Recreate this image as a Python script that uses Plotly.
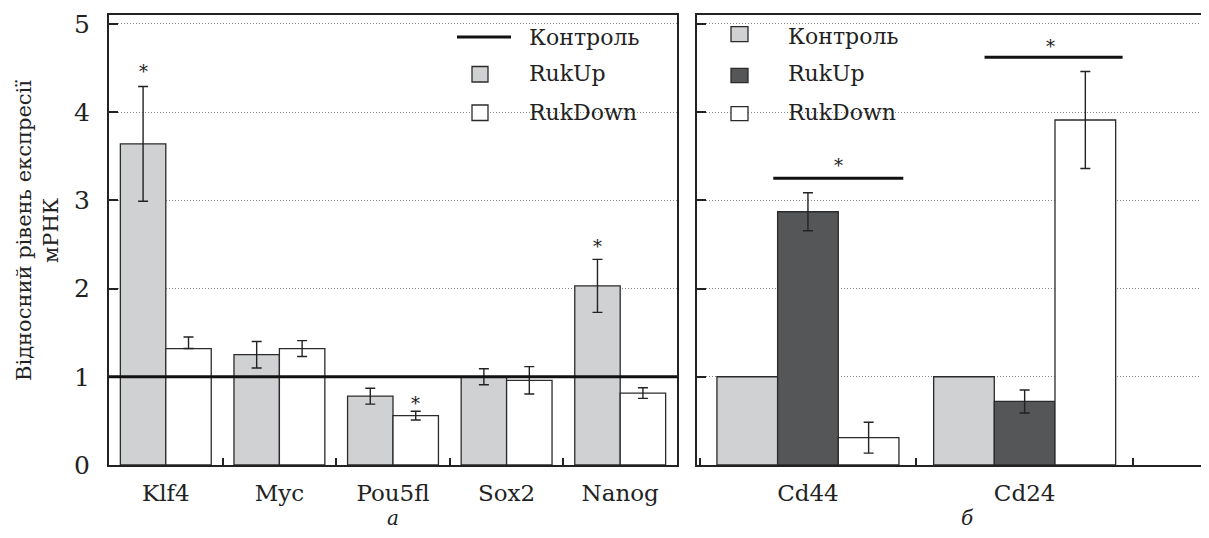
import plotly.graph_objects as go

# page body has an 8px margin: the figure is drawn inside it
OFF = 8
W, H = 1209 - 2 * OFF, 538 - 2 * OFF

# ---------------- data ----------------
genes_a = ["Klf4", "Myc", "Pou5fl", "Sox2", "Nanog"]
rukup_a = [3.64, 1.25, 0.78, 1.00, 2.03]
rukup_a_err = [0.65, 0.15, 0.09, 0.09, 0.30]
rukdown_a = [1.32, 1.32, 0.56, 0.96, 0.815]
rukdown_a_err_plus = [0.13, 0.09, 0.05, 0.155, 0.06]
rukdown_a_err_minus = [0.0, 0.09, 0.05, 0.155, 0.06]
control_level = 1.0

genes_b = ["Cd44", "Cd24"]
control_b = [1.0, 1.0]
rukup_b = [2.87, 0.72]
rukup_b_err = [0.215, 0.13]
rukdown_b = [0.31, 3.91]
rukdown_b_err = [0.175, 0.55]

# significance marks
stars_a = [("Klf4", -0.2, 4.46), ("Pou5fl", 0.2, 0.70), ("Nanog", -0.2, 2.48)]
sig_b = [(-0.16, 0.44, 3.25, 0.14, 3.39), (0.815, 1.452, 4.62, 1.12, 4.74)]

y_ticks = [0, 1, 2, 3, 4, 5]

FONT = "DejaVu Serif"
GRAY = "#d0d1d3"
DARK = "#555658"
EDGE = "#2b2b2b"
TXT = "#222"

def px(x):
    return (x - OFF) / W

def py(y):
    return 1 - (y - OFF) / H

fig = go.Figure()

# ---- panel a ----
fig.add_trace(go.Bar(
    x=genes_a, y=rukup_a, width=0.4, offset=-0.4,
    marker=dict(color=GRAY, line=dict(color=EDGE, width=1.3)),
    error_y=dict(type="data", array=rukup_a_err, color=TXT, thickness=1.4, width=5),
    xaxis="x", yaxis="y", showlegend=False, name="RukUp"))
fig.add_trace(go.Bar(
    x=genes_a, y=rukdown_a, width=0.4, offset=0.0,
    marker=dict(color="white", line=dict(color=EDGE, width=1.3)),
    error_y=dict(type="data", array=rukdown_a_err_plus, arrayminus=rukdown_a_err_minus,
                 symmetric=False, color=TXT, thickness=1.4, width=5),
    xaxis="x", yaxis="y", showlegend=False, name="RukDown"))

# ---- panel b ----
fig.add_trace(go.Bar(
    x=genes_b, y=control_b, width=0.28, offset=-0.42,
    marker=dict(color=GRAY, line=dict(color=EDGE, width=1.3)),
    xaxis="x2", yaxis="y2", showlegend=False, name="Контроль"))
fig.add_trace(go.Bar(
    x=genes_b, y=rukup_b, width=0.28, offset=-0.14,
    marker=dict(color=DARK, line=dict(color=EDGE, width=1.3)),
    error_y=dict(type="data", array=rukup_b_err, color=TXT, thickness=1.4, width=5),
    xaxis="x2", yaxis="y2", showlegend=False, name="RukUp"))
fig.add_trace(go.Bar(
    x=genes_b, y=rukdown_b, width=0.28, offset=0.14,
    marker=dict(color="white", line=dict(color=EDGE, width=1.3)),
    error_y=dict(type="data", array=rukdown_b_err, color=TXT, thickness=1.4, width=5),
    xaxis="x2", yaxis="y2", showlegend=False, name="RukDown"))

shapes = []
annotations = []

# control line in panel a
shapes.append(dict(type="line", xref="x domain", yref="y", x0=0, x1=1,
                   y0=control_level, y1=control_level,
                   line=dict(color="#111", width=3), layer="above"))

# stars panel a
for g, dx, yv in stars_a:
    annotations.append(dict(x=genes_a.index(g) + dx, y=yv, xref="x", yref="y",
                            text="*", showarrow=False, yanchor="middle",
                            font=dict(family=FONT, size=18, color=TXT)))

# significance lines panel b
for x0, x1, yl, xs, ys in sig_b:
    shapes.append(dict(type="line", xref="x2", yref="y2", x0=x0, x1=x1, y0=yl, y1=yl,
                       line=dict(color="#111", width=3)))
    annotations.append(dict(x=xs, y=ys, xref="x2", yref="y2", text="*", showarrow=False,
                            yanchor="middle",
                            font=dict(family=FONT, size=18, color=TXT)))

# ---- manual legends ----
LFS = 22
# left legend
shapes.append(dict(type="line", xref="paper", yref="paper", x0=px(457), x1=px(511),
                   y0=py(37), y1=py(37), line=dict(color="#111", width=3)))
shapes.append(dict(type="rect", xref="paper", yref="paper", x0=px(472), x1=px(488),
                   y0=py(82), y1=py(66.5), fillcolor=GRAY, line=dict(color=EDGE, width=1.3)))
shapes.append(dict(type="rect", xref="paper", yref="paper", x0=px(472), x1=px(488),
                   y0=py(120.5), y1=py(105), fillcolor="white", line=dict(color=EDGE, width=1.3)))
for t, yy in [("Контроль", 37), ("RukUp", 74), ("RukDown", 112)]:
    annotations.append(dict(x=px(527), y=py(yy), xref="paper", yref="paper", text=t,
                            showarrow=False, xanchor="left", yanchor="middle",
                            font=dict(family=FONT, size=LFS, color=TXT)))
# right legend
for col, y0, y1 in [(GRAY, 26.7, 41.7), (DARK, 68.3, 82.7), ("white", 106.7, 120.7)]:
    shapes.append(dict(type="rect", xref="paper", yref="paper", x0=px(731), x1=px(748),
                       y0=py(y1), y1=py(y0), fillcolor=col, line=dict(color=EDGE, width=1.3)))
for t, yy in [("Контроль", 36), ("RukUp", 74), ("RukDown", 112)]:
    annotations.append(dict(x=px(786), y=py(yy), xref="paper", yref="paper", text=t,
                            showarrow=False, xanchor="left", yanchor="middle",
                            font=dict(family=FONT, size=LFS, color=TXT)))

# axis title
annotations.append(dict(x=px(37), y=py(231), xref="paper", yref="paper",
                        text="Відносний рівень експресії<br>мРНК", textangle=-90,
                        showarrow=False, xanchor="center", yanchor="middle",
                        font=dict(family=FONT, size=21, color=TXT)))
# panel labels
for lab, xx in [("<i>а</i>", 393), ("<i>б</i>", 968)]:
    annotations.append(dict(x=px(xx), y=py(518), xref="paper", yref="paper", text=lab,
                            showarrow=False, xanchor="center", yanchor="middle",
                            borderpad=0, height=20, valign="middle",
                            font=dict(family=FONT, size=20, color=TXT)))

yax_common = dict(range=[0, 5.1], tickvals=y_ticks, ticks="inside", ticklen=9,
                  tickwidth=1.5, tickcolor=TXT, automargin=False,
                  showline=True, linecolor=TXT, linewidth=2,
                  showgrid=True, gridcolor="#888", griddash="1px,2px", gridwidth=1,
                  zeroline=False, domain=[py(465), py(15)], fixedrange=True)
xax_common = dict(type="category", tickson="boundaries", ticks="inside", ticklen=7,
                  tickwidth=1.5, tickcolor=TXT, automargin=False,
                  showline=True, linecolor=TXT, linewidth=2, mirror=True,
                  showgrid=False, zeroline=False, fixedrange=True,
                  tickfont=dict(family=FONT, size=23, color=TXT))

fig.update_layout(
    width=W, height=H,
    margin=dict(l=0, r=0, t=0, b=0, pad=0),
    paper_bgcolor="white", plot_bgcolor="white",
    barmode="overlay",
    xaxis=dict(**xax_common, domain=[px(109), px(677)], range=[-0.5, 4.5],
               anchor="y", ticklabelstandoff=6),
    yaxis=dict(**yax_common, anchor="x", mirror=True,
               tickfont=dict(family=FONT, size=25, color=TXT), ticklabelstandoff=12),
    xaxis2=dict(**xax_common, domain=[px(697), 1.0],
                range=[-0.512, -0.512 + (1201 - 697) / 216.7],
                anchor="y2", ticklabelstandoff=6),
    yaxis2=dict(**yax_common, anchor="x2", mirror=False, showticklabels=False),
    shapes=shapes,
    annotations=annotations,
    font=dict(family=FONT, color=TXT),
)

fig.write_html("out.html")
